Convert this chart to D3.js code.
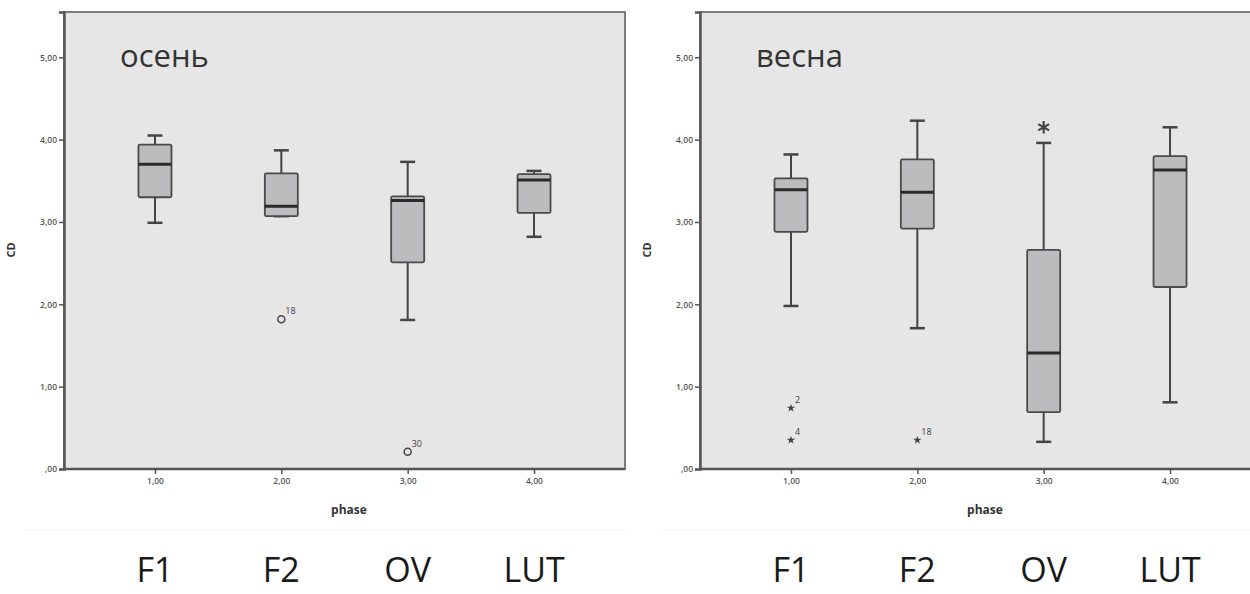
<!DOCTYPE html>
<html>
<head>
<meta charset="utf-8">
<script src="https://cdn.jsdelivr.net/npm/d3@7"></script>
<style>
  body { margin: 0; background: #fff; }
  svg { display: block; }
  .tick text { font-family: "Open Sans", sans-serif; font-size: 8.5px; font-weight: 600; fill: #555; }
</style>
</head>
<body>
<svg id="chart" width="1250" height="594"></svg>
<script>
// categories and tick labels
const phases = ['1,00', '2,00', '3,00', '4,00']
const groupNames = ['F1', 'F2', 'OV', 'LUT']
const yTicks = [0, 1, 2, 3, 4, 5]

// осень (autumn)
const autumnHigh = [4.05, 3.87, 3.73, 3.62]
const autumnQ3 = [3.94, 3.59, 3.31, 3.58]
const autumnMedian = [3.70, 3.19, 3.26, 3.51]
const autumnQ1 = [3.30, 3.07, 2.51, 3.11]
const autumnLow = [2.99, 3.07, 1.81, 2.82]
const autumnOutliers = [
    { phase: '2,00', value: 1.82, label: '18', kind: 'circle' },
    { phase: '3,00', value: 0.21, label: '30', kind: 'circle' }
]

// весна (spring)
const springHigh = [3.82, 4.23, 3.96, 4.15]
const springQ3 = [3.53, 3.76, 2.66, 3.80]
const springMedian = [3.39, 3.36, 1.41, 3.63]
const springQ1 = [2.88, 2.92, 0.69, 2.21]
const springLow = [1.98, 1.71, 0.33, 0.81]
const springOutliers = [
    { phase: '1,00', value: 0.74, label: '2', kind: 'star' },
    { phase: '1,00', value: 0.35, label: '4', kind: 'star' },
    { phase: '2,00', value: 0.35, label: '18', kind: 'star' },
    { phase: '3,00', value: 4.15, label: '', kind: 'asterisk' }
]

const svg = d3.select('#chart')
const plotTop = 12, plotBottom = 469
const plotW = 561
const boxW = 33, capW = 15

function drawPanel(left, title, high, q3, median, q1, low, outliers) {
    var x = d3.scalePoint().domain(phases).range([left, left + plotW]).padding(0.72)
    var y = d3.scaleLinear().domain([0, 5.55]).range([plotBottom, plotTop])

    var g = svg.append('g')

    // plot background + frame
    g.append('rect')
        .attr('x', left).attr('y', plotTop)
        .attr('width', plotW).attr('height', plotBottom - plotTop)
        .attr('fill', '#e6e6e7')
        .attr('stroke', '#7d7d7d')
        .attr('stroke-width', 2)

    // axes
    var yAxis = d3.axisLeft(y).tickValues(yTicks).tickSize(5).tickPadding(2)
        .tickFormat(d => d == 0 ? ',00' : d3.format('.2f')(d).replace('.', ','))
    var ya = g.append('g').attr('transform', 'translate(' + left + ',0)').call(yAxis)
    ya.select('.domain').attr('stroke', '#555').attr('stroke-width', 2.5)
    ya.selectAll('.tick line').attr('stroke', '#555').attr('stroke-width', 1.5)

    var xAxis = d3.axisBottom(x).tickSize(5).tickPadding(4)
    var xa = g.append('g').attr('transform', 'translate(0,' + plotBottom + ')').call(xAxis)
    xa.select('.domain').attr('stroke', '#555').attr('stroke-width', 2.5)
        .attr('d', 'M' + left + ',0H' + (left + plotW))
    xa.selectAll('.tick line').attr('stroke', '#555').attr('stroke-width', 1.5)

    // axis titles
    g.append('text')
        .attr('transform', 'translate(' + (left - 49) + ',' + 250 + ') rotate(-90)')
        .attr('text-anchor', 'middle')
        .attr('font-family', 'Open Sans, sans-serif').attr('font-weight', 700)
        .attr('font-size', 11).attr('fill', '#333')
        .text('CD')
    g.append('text')
        .attr('x', left + 285).attr('y', 514)
        .attr('text-anchor', 'middle')
        .attr('font-family', 'Open Sans, sans-serif').attr('font-weight', 700)
        .attr('font-size', 12).attr('fill', '#333')
        .text('phase')

    // faint separator below the chart
    g.append('line')
        .attr('x1', left - 40).attr('x2', left + plotW)
        .attr('y1', 530).attr('y2', 530)
        .attr('stroke', '#f4f4f4').attr('stroke-width', 1)

    // panel title
    g.append('text')
        .attr('x', left + 56).attr('y', 67)
        .attr('font-family', 'Open Sans, sans-serif')
        .attr('font-size', 31).attr('fill', '#333')
        .text(title)

    // whiskers
    var boxes = g.append('g').selectAll('g').data(phases).join('g')
    boxes.append('line')
        .attr('x1', d => x(d)).attr('x2', d => x(d))
        .attr('y1', (d, i) => y(high[i])).attr('y2', (d, i) => y(low[i]))
        .attr('stroke', '#444').attr('stroke-width', 2)
    boxes.append('line')
        .attr('x1', d => x(d) - capW / 2).attr('x2', d => x(d) + capW / 2)
        .attr('y1', (d, i) => y(high[i])).attr('y2', (d, i) => y(high[i]))
        .attr('stroke', '#444').attr('stroke-width', 2.5)
    boxes.append('line')
        .attr('x1', d => x(d) - capW / 2).attr('x2', d => x(d) + capW / 2)
        .attr('y1', (d, i) => y(low[i])).attr('y2', (d, i) => y(low[i]))
        .attr('stroke', '#444').attr('stroke-width', 2.5)
    // box
    boxes.append('rect')
        .attr('x', d => x(d) - boxW / 2).attr('width', boxW)
        .attr('y', (d, i) => y(q3[i]))
        .attr('height', (d, i) => y(q1[i]) - y(q3[i]))
        .attr('rx', 1.5)
        .attr('fill', '#bcbcbe').attr('stroke', '#4a4a4a').attr('stroke-width', 1.8)
    // median
    boxes.append('line')
        .attr('x1', d => x(d) - boxW / 2).attr('x2', d => x(d) + boxW / 2)
        .attr('y1', (d, i) => y(median[i])).attr('y2', (d, i) => y(median[i]))
        .attr('stroke', '#2b2b2b').attr('stroke-width', 3)

    // outliers
    var out = g.append('g').selectAll('g').data(outliers).join('g')
        .attr('transform', d => 'translate(' + x(d.phase) + ',' + y(d.value) + ')')
    out.filter(d => d.kind == 'circle').append('circle')
        .attr('r', 3.5).attr('fill', 'none').attr('stroke', '#444').attr('stroke-width', 1.5)
    out.filter(d => d.kind == 'star').append('path')
        .attr('d', d3.symbol(d3.symbolStar, 22)())
        .attr('fill', '#444')
    out.filter(d => d.kind == 'asterisk').append('path')
        .attr('d', d3.symbol(d3.symbolAsterisk, 110)())
        .attr('fill', 'none').attr('stroke', '#444').attr('stroke-width', 2.2)
    out.append('text')
        .attr('x', 4).attr('y', -5)
        .attr('font-family', 'Open Sans, sans-serif')
        .attr('font-size', 9).attr('fill', '#444')
        .text(d => d.label)

    // big phase names underneath
    g.append('g').selectAll('text').data(phases).join('text')
        .attr('x', d => x(d)).attr('y', 582)
        .attr('text-anchor', 'middle')
        .attr('font-family', 'Open Sans, sans-serif')
        .attr('font-size', 34).attr('fill', '#1a1a1a')
        .text((d, i) => groupNames[i])
}

drawPanel(64, 'осень', autumnHigh, autumnQ3, autumnMedian, autumnQ1, autumnLow, autumnOutliers)
drawPanel(700, 'весна', springHigh, springQ3, springMedian, springQ1, springLow, springOutliers)
</script>
</body>
</html>
